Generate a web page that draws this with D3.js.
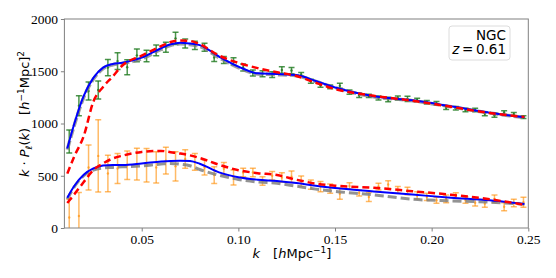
<!DOCTYPE html>
<html>
<head>
<meta charset="utf-8">
<script src="https://cdn.jsdelivr.net/npm/d3@7"></script>
<style>
  html, body { margin: 0; padding: 0; background: #fff; }
  svg { display: block; }
</style>
</head>
<body>
<div id="chart"></div>
<script>
// measured band powers (NGC, z = 0.61)
const kData = [0.0125, 0.0175, 0.0225, 0.0275, 0.0325, 0.0375, 0.0425, 0.0475,
  0.0525, 0.0575, 0.0625, 0.0675, 0.0725, 0.0775, 0.0825, 0.0875, 0.0925, 0.0975,
  0.1025, 0.1075, 0.1125, 0.1175, 0.1225, 0.1275, 0.1325, 0.1375, 0.1425, 0.1475,
  0.1525, 0.1575, 0.1625, 0.1675, 0.1725, 0.1775, 0.1825, 0.1875, 0.1925, 0.1975,
  0.2025, 0.2075, 0.2125, 0.2175, 0.2225, 0.2275, 0.2325, 0.2375, 0.2425, 0.2475];

const monoVal = [828, 1170, 1310, 1320, 1535, 1597, 1538, 1652, 1646, 1700, 1730, 1815,
  1765, 1747, 1730, 1632, 1608, 1595, 1536, 1483, 1476, 1467, 1512, 1507,
  1470, 1404, 1366, 1351, 1361, 1301, 1270, 1265, 1244, 1230, 1244, 1236,
  1225, 1203, 1193, 1151, 1145, 1129, 1129, 1094, 1078, 1105, 1088, 1062];
const monoErr = [110, 95, 86, 86, 77, 80, 72, 62, 55, 52, 48, 58,
  43, 40, 38, 38, 33, 35, 33, 28, 28, 28, 32, 30,
  18, 20, 20, 18, 24, 20, 20, 15, 20, 21, 20, 25,
  17, 17, 17, 17, 17, 17, 17, 19, 19, 18, 17, 13];

const quadVal = [100, 115, 579, 690, 522, 570, 600, 612, 600, 580, 645, 590,
  660, 632, 579, 507, 567, 483, 531, 531, 450, 500, 483, 491,
  447, 415, 396, 377, 327, 402, 335, 297, 396, 416, 364, 354,
  311, 297, 265, 279, 311, 268, 242, 233, 279, 204, 239, 246];
const quadErr = [175, 225, 215, 345, 175, 143, 136, 152, 160, 150, 128, 140,
  88, 80, 72, 80, 60, 72, 40, 40, 40, 40, 45, 55,
  50, 45, 48, 45, 53, 32, 29, 43, 32, 37, 32, 37,
  36, 35, 29, 37, 27, 32, 32, 35, 37, 38, 35, 48];

// model curves
const kModel = [0.0115, 0.015, 0.02, 0.025, 0.03, 0.035, 0.04, 0.05, 0.06, 0.065,
  0.07, 0.075, 0.08, 0.09, 0.10, 0.11, 0.12, 0.13, 0.14, 0.15, 0.17, 0.19, 0.21, 0.23, 0.248];

const monoBlue = [760, 990, 1264, 1437, 1535, 1570, 1582, 1630, 1720, 1758,
  1773, 1765, 1750, 1641, 1545, 1480, 1474, 1464, 1407, 1345, 1260, 1222, 1165, 1103, 1060];
const monoGray = [750, 975, 1250, 1425, 1525, 1562, 1575, 1620, 1708, 1748,
  1762, 1755, 1738, 1630, 1535, 1474, 1468, 1458, 1402, 1342, 1256, 1218, 1160, 1100, 1058];
const monoRed = [520, 680, 880, 1210, 1350, 1450, 1555, 1650, 1740, 1780,
  1795, 1790, 1760, 1650, 1580, 1530, 1490, 1455, 1390, 1330, 1265, 1218, 1160, 1100, 1063];

const quadBlue = [290, 400, 510, 570, 598, 603, 603, 617, 636, 642,
  644, 640, 615, 532, 485, 462, 450, 430, 404, 382, 350, 320, 290, 265, 230];
const quadGray = [275, 390, 500, 555, 575, 580, 585, 595, 612, 618,
  610, 595, 560, 505, 465, 440, 428, 400, 372, 350, 318, 275, 260, 248, 227];
const quadRed = [240, 320, 440, 555, 618, 665, 692, 728, 738, 725,
  712, 695, 670, 605, 553, 525, 507, 462, 425, 405, 385, 352, 318, 275, 222];

const xTicks = [0.05, 0.10, 0.15, 0.20, 0.25];
const yTicks = [0, 500, 1000, 1500, 2000];

const width = 556, height = 278;
const plotLeft = 64.4, plotRight = 528.3, plotTop = 19, plotBottom = 228;

const x = d3.scaleLinear().domain([0.01, 0.25]).range([plotLeft, plotRight]);
const y = d3.scaleLinear().domain([0, 2000]).range([plotBottom, plotTop]);

const svg = d3.select("#chart").append("svg")
  .attr("width", width)
  .attr("height", height);

svg.append("defs").append("clipPath").attr("id", "plot-clip")
  .append("rect")
  .attr("x", plotLeft).attr("y", plotTop)
  .attr("width", plotRight - plotLeft).attr("height", plotBottom - plotTop);

const plot = svg.append("g").attr("clip-path", "url(#plot-clip)");

// error bars
function errorBars(vals, errs, color, opacity, cap) {
  const g = plot.append("g")
    .attr("stroke", color)
    .attr("stroke-opacity", opacity)
    .attr("stroke-width", 1.5);
  kData.forEach((k, i) => {
    const cx = x(k);
    const y0 = y(vals[i] - errs[i]);
    const y1 = y(vals[i] + errs[i]);
    g.append("line").attr("x1", cx).attr("x2", cx).attr("y1", y0).attr("y2", y1);
    g.append("line").attr("x1", cx - cap).attr("x2", cx + cap).attr("y1", y0).attr("y2", y0);
    g.append("line").attr("x1", cx - cap).attr("x2", cx + cap).attr("y1", y1).attr("y2", y1);
  });
  g.selectAll("circle.pt")
    .data(vals)
    .join("circle")
    .attr("class", "pt")
    .attr("cx", (d, i) => x(kData[i]))
    .attr("cy", (d) => y(d))
    .attr("r", 1.2)
    .attr("stroke", "none")
    .attr("fill", color)
    .attr("fill-opacity", opacity);
}

errorBars(quadVal, quadErr, "#ff8c00", 0.6, 3);
errorBars(monoVal, monoErr, "#1f7a1f", 0.8, 3);

const line = d3.line()
  .x((d, i) => x(kModel[i]))
  .y((d) => y(d))
  .curve(d3.curveMonotoneX);

function drawCurve(vals, color, w, dash, opacity) {
  plot.append("path")
    .datum(vals)
    .attr("fill", "none")
    .attr("stroke", color)
    .attr("stroke-width", w)
    .attr("stroke-opacity", opacity)
    .attr("stroke-dasharray", dash)
    .attr("d", line);
}

drawCurve(monoGray, "#808080", 3.5, "9,3", 0.75);
drawCurve(quadGray, "#808080", 3, "9,4", 0.85);
drawCurve(monoBlue, "#0000ff", 2, null, 1);
drawCurve(quadBlue, "#0000ff", 2, null, 1);
drawCurve(monoRed, "#ff0000", 2.5, "7,4", 1);
drawCurve(quadRed, "#ff0000", 2.5, "7,4", 1);

// frame
svg.append("rect")
  .attr("x", plotLeft).attr("y", plotTop)
  .attr("width", plotRight - plotLeft).attr("height", plotBottom - plotTop)
  .attr("fill", "none")
  .attr("stroke", "#808080")
  .attr("stroke-width", 1);

// axes
const serif = "'Liberation Serif', 'Times New Roman', 'DejaVu Serif', serif";
const xAxis = svg.append("g")
  .attr("transform", `translate(0,${plotBottom})`)
  .call(d3.axisBottom(x).tickValues(xTicks).tickFormat(d3.format(".2f")).tickSize(3.5).tickPadding(3));
const yAxis = svg.append("g")
  .attr("transform", `translate(${plotLeft},0)`)
  .call(d3.axisLeft(y).tickValues(yTicks).tickFormat(d3.format("d")).tickSize(3.5).tickPadding(3));

[xAxis, yAxis].forEach((a) => {
  a.attr("font-family", serif).attr("font-size", 13.5);
  a.select(".domain").remove();
  a.selectAll(".tick line").attr("stroke", "#808080");
  a.selectAll(".tick text").attr("fill", "#000");
});

const sans = "'DejaVu Sans', sans-serif";

// x label
const xl = svg.append("text")
  .attr("x", 292).attr("y", 258)
  .attr("text-anchor", "middle")
  .style("font-family", sans)
  .style("font-size", "13px")
  .attr("fill", "#000");
xl.append("tspan").attr("font-style", "italic").text("k");
xl.append("tspan").text("\u2003[");
xl.append("tspan").attr("font-style", "italic").text("h");
xl.append("tspan").text("Mpc");
xl.append("tspan").attr("dy", -5).style("font-size", "9px").text("\u22121");
xl.append("tspan").attr("dy", 5).text("]");

// y label
const yl = svg.append("text")
  .attr("transform", "translate(29,114) rotate(-90)")
  .attr("text-anchor", "middle")
  .style("font-family", sans)
  .style("font-size", "13px")
  .attr("fill", "#000");
yl.append("tspan").attr("font-style", "italic").text("k");
yl.append("tspan").text(" \u00b7 ");
yl.append("tspan").attr("font-style", "italic").text("P");
yl.append("tspan").attr("dy", 3).style("font-size", "9px").attr("font-style", "italic").text("\u2113");
yl.append("tspan").attr("dy", -3).text("(");
yl.append("tspan").attr("font-style", "italic").text("k");
yl.append("tspan").text(")\u2003[");
yl.append("tspan").attr("font-style", "italic").text("h");
yl.append("tspan").attr("dy", -5).style("font-size", "9px").text("\u22121");
yl.append("tspan").attr("dy", 5).text("Mpc]");
yl.append("tspan").attr("dy", -5).style("font-size", "9px").text("2");

// legend box
svg.append("rect")
  .attr("x", 449).attr("y", 26)
  .attr("width", 61).attr("height", 34)
  .attr("rx", 3)
  .attr("fill", "#fff")
  .attr("fill-opacity", 0.8)
  .attr("stroke", "#dcdcdc")
  .attr("stroke-width", 1);

svg.append("text")
  .attr("x", 506).attr("y", 39.5)
  .attr("text-anchor", "end")
  .style("font-family", sans)
  .style("font-size", "13.5px")
  .text("NGC");

const zt = svg.append("text")
  .attr("x", 506).attr("y", 54)
  .attr("text-anchor", "end")
  .style("font-family", sans)
  .style("font-size", "13.5px");
zt.append("tspan").attr("font-style", "italic").text("z");
zt.append("tspan").text("\u2009=\u20090.61");
</script>
</body>
</html>
